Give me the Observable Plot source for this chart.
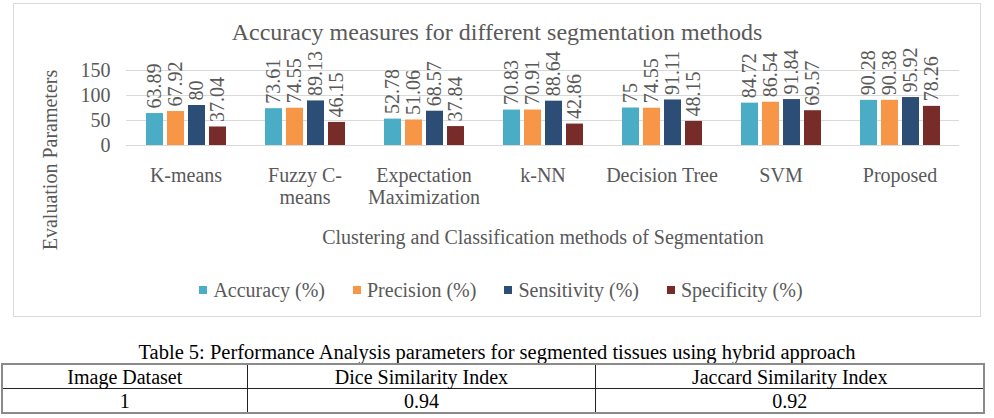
<!DOCTYPE html>
<html>
<head>
<meta charset="utf-8">
<script src="https://cdn.jsdelivr.net/npm/d3@7"></script>
<script src="https://cdn.jsdelivr.net/npm/@observablehq/plot@0.6"></script>
<style>
  body { margin: 0; background: #fff; font-family: "Liberation Serif", serif; }
  #wrap { position: relative; width: 994px; height: 418px; overflow: hidden; }
  #frame { position: absolute; left: 13px; top: 3px; width: 968px; height: 314px; border: 1px solid #d9d9d9; box-sizing: border-box; }
  #chart { position: absolute; left: 0; top: 0; }
  .lbl { position: absolute; color: #595959; white-space: nowrap; line-height: 1; }
  #title { left: 0; width: 994px; text-align: center; top: 20px; font-size: 24px; }
  #ytitle { left: 50px; top: 160px; font-size: 20px; transform: translate(-50%, -50%) rotate(-90deg); }
  #xtitle { left: 0; width: 1086px; text-align: center; top: 227px; font-size: 20px; }
  #legend { position: absolute; left: 0; width: 1002px; top: 280px; display: flex; justify-content: center; gap: 28px; font-size: 20px; color: #595959; line-height: 1; }
  #legend span.item { display: inline-flex; align-items: center; gap: 6px; }
  #legend span.sw { width: 8px; height: 8px; display: inline-block; }
  #caption { position: absolute; left: 0; width: 994px; top: 342px; text-align: center; font-size: 20.5px; color: #000; line-height: 1; }
  #tbl { position: absolute; left: 1px; top: 363px; width: 984px; border-collapse: collapse; border: 2px solid #8a8a8a; font-size: 20px; color: #000; }
  #tbl td { border: 1px solid #222; text-align: center; height: 23px; padding: 0; line-height: 1; }
</style>
</head>
<body>
<div id="wrap">
  <div id="frame"></div>
  <div id="chart"></div>
  <div id="title" class="lbl">Accuracy measures for different segmentation methods</div>
  <div id="ytitle" class="lbl">Evaluation Parameters</div>
  <div id="xtitle" class="lbl">Clustering and Classification methods of Segmentation</div>
  <div id="legend"></div>
  <div id="caption">Table 5: Performance Analysis parameters for segmented tissues using hybrid approach</div>
  <table id="tbl"></table>
</div>
<script>
// Segmentation methods and their axis labels (wrapped as in the chart)
const methods = ["K-means", "Fuzzy C-means", "Expectation Maximization", "k-NN", "Decision Tree", "SVM", "Proposed"];
const methodLabels = ["K-means", "Fuzzy C-\nmeans", "Expectation\nMaximization", "k-NN", "Decision Tree", "SVM", "Proposed"];

// Evaluation measures (series)
const measures = ["Accuracy (%)", "Precision (%)", "Sensitivity (%)", "Specificity (%)"];
const accuracy    = [63.89, 73.61, 52.78, 70.83, 75,    84.72, 90.28];
const precision   = [67.92, 74.55, 51.06, 70.91, 74.55, 86.54, 90.38];
const sensitivity = [80,    89.13, 68.57, 88.64, 91.11, 91.84, 95.92];
const specificity = [37.04, 46.15, 37.84, 42.86, 48.15, 69.57, 78.26];
const seriesColors = ["#4BACC6", "#F79646", "#2C4D75", "#772C2A"];
const yTicks = [0, 50, 100, 150];

// Table 5 contents
const tableHeader = ["Image Dataset", "Dice Similarity Index", "Jaccard Similarity Index"];
const tableRow = ["1", "0.94", "0.92"];
const columnWidths = [245, 350, 389];

const series = [accuracy, precision, sensitivity, specificity];
const rows = methods.flatMap((m, i) => series.map((s, j) => ({ method: m, measure: measures[j], value: s[i] })));

const font = "'Liberation Serif', serif";
const chart = Plot.plot({
  width: 994,
  height: 320,
  marginLeft: 124,
  marginRight: 34,
  marginTop: 70,
  marginBottom: 175,
  style: { fontFamily: font, color: "#595959", background: "transparent", overflow: "visible" },
  fx: { domain: methods, padding: 0, label: null },
  x: { domain: measures, paddingInner: 0.21, paddingOuter: 0.88, axis: null },
  y: { domain: [0, 150], axis: null },
  color: { domain: measures, range: seriesColors },
  marks: [
    Plot.gridY(yTicks, { stroke: "#d9d9d9", strokeOpacity: 1, strokeWidth: 1.2 }),
    Plot.axisY(yTicks, { tickSize: 0, tickPadding: 16, fontSize: 20, label: null }),
    Plot.axisFx({
      anchor: "bottom", tickSize: 0, tickPadding: 21, fontSize: 20, lineHeight: 1.1, label: null,
      tickFormat: (d) => methodLabels[methods.indexOf(d)]
    }),
    Plot.barY(rows, { fx: "method", x: "measure", y: "value", fill: "measure" }),
    Plot.text(rows, {
      fx: "method", x: "measure", y: "value", text: (d) => String(d.value),
      rotate: -90, textAnchor: "start", dy: -5, fontSize: 20, fill: "#595959"
    })
  ]
});
document.getElementById("chart").appendChild(chart);

// Legend
const legend = document.getElementById("legend");
measures.forEach((m, i) => {
  const item = document.createElement("span");
  item.className = "item";
  const sw = document.createElement("span");
  sw.className = "sw";
  sw.style.background = seriesColors[i];
  item.appendChild(sw);
  item.appendChild(document.createTextNode(m));
  legend.appendChild(item);
});

// Table
const tbl = document.getElementById("tbl");
[tableHeader, tableRow].forEach((r) => {
  const tr = document.createElement("tr");
  r.forEach((c, i) => {
    const td = document.createElement("td");
    td.style.width = columnWidths[i] + "px";
    td.textContent = c;
    tr.appendChild(td);
  });
  tbl.appendChild(tr);
});
</script>
</body>
</html>
